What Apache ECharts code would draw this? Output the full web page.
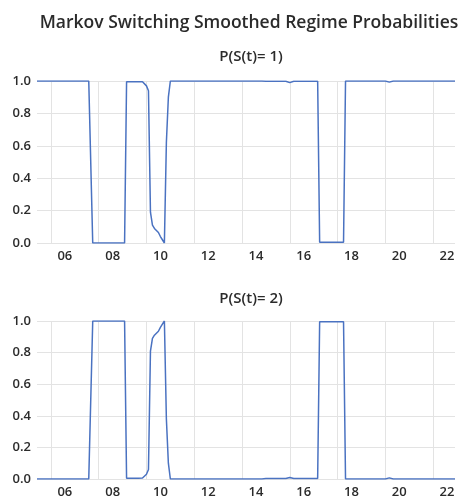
<!DOCTYPE html>
<html>
<head>
<meta charset="utf-8">
<script src="https://cdn.jsdelivr.net/npm/echarts@6/dist/echarts.min.js"></script>
<style>
  html, body {
    margin: 0;
    padding: 0;
    background: #ffffff;
  }
  #chart {
    width: 464px;
    height: 499px;
  }
</style>
</head>
<body>
<div id="chart"></div>
<script>
// monthly sample 2005M6 - 2022M12
const startYear = 2005
const startMonth = 6
const endYear = 2022
const endMonth = 12

const yTicks = ['0.0', '0.2', '0.4', '0.6', '0.8', '1.0']

// smoothed probability of regime 1, one row per year
const regime1 = [
  1, 1, 1, 1, 1, 1, 1, // 2005
  1, 1, 1, 1, 1, 1, 1, 1, 1, 1, 1, 1, // 2006
  1, 1, 1, 1, 1, 1, 1, 1, 1, 0, 0, 0, // 2007
  0, 0, 0, 0, 0, 0, 0, 0, 0, 0, 0, 0, // 2008
  0, 0, 0.996, 0.996, 0.996, 0.996, 0.996, 0.996, 0.996, 0.996, 0.995, 0.985, // 2009
  0.97, 0.94, 0.19, 0.11, 0.09, 0.09, 0.065, 0.04, 0.02, 0, 0.62, 0.9, // 2010
  1, 1, 1, 1, 1, 1, 1, 1, 1, 1, 1, 1, // 2011
  1, 1, 1, 1, 1, 1, 1, 1, 1, 1, 1, 1, // 2012
  1, 1, 1, 1, 1, 1, 1, 1, 1, 1, 1, 1, // 2013
  1, 1, 1, 1, 1, 1, 1, 1, 1, 1, 1, 1, // 2014
  0.998, 0.998, 0.998, 0.998, 0.998, 0.998, 0.998, 0.998, 0.998, 0.998, 0.998, 0.998, // 2015
  0.99, 0.994, 0.998, 0.998, 0.998, 0.998, 0.998, 0.998, 0.998, 0.998, 0.998, 0.998, // 2016
  0.998, 0.998, 0.998, 0.005, 0.005, 0.005, 0.005, 0.005, 0.005, 0.005, 0.005, 0.005, // 2017
  0.005, 0.005, 0.005, 0.005, 1, 1, 1, 1, 1, 1, 1, 1, // 2018
  1, 1, 1, 1, 1, 1, 1, 1, 1, 1, 1, 1, // 2019
  1, 1, 0.993, 0.997, 1, 1, 1, 1, 1, 1, 1, 1, // 2020
  1, 1, 1, 1, 1, 1, 1, 1, 1, 1, 1, 1, // 2021
  1, 1, 1, 1, 1, 1, 1, 1, 1, 1, 1, 1 // 2022
]

// smoothed probability of regime 2
const regime2 = [
  0, 0, 0, 0, 0, 0, 0, // 2005
  0, 0, 0, 0, 0, 0, 0, 0, 0, 0, 0, 0, // 2006
  0, 0, 0, 0, 0, 0, 0, 0, 0, 1, 1, 1, // 2007
  1, 1, 1, 1, 1, 1, 1, 1, 1, 1, 1, 1, // 2008
  1, 1, 0.005, 0.005, 0.005, 0.005, 0.005, 0.005, 0.005, 0.005, 0.006, 0.015, // 2009
  0.03, 0.06, 0.81, 0.89, 0.91, 0.91, 0.935, 0.96, 0.98, 1, 0.38, 0.1, // 2010
  0, 0, 0, 0, 0, 0, 0, 0, 0, 0, 0, 0, // 2011
  0, 0, 0, 0, 0, 0, 0, 0, 0, 0, 0, 0, // 2012
  0, 0, 0, 0, 0, 0, 0, 0, 0, 0, 0, 0, // 2013
  0, 0, 0, 0, 0, 0, 0, 0, 0, 0, 0, 0, // 2014
  0.003, 0.003, 0.003, 0.003, 0.003, 0.003, 0.003, 0.003, 0.003, 0.003, 0.003, 0.003, // 2015
  0.01, 0.006, 0.003, 0.003, 0.003, 0.003, 0.003, 0.003, 0.003, 0.003, 0.003, 0.003, // 2016
  0.003, 0.003, 0.003, 0.995, 0.995, 0.995, 0.995, 0.995, 0.995, 0.995, 0.995, 0.995, // 2017
  0.995, 0.995, 0.995, 0.995, 0, 0, 0, 0, 0, 0, 0, 0, // 2018
  0, 0, 0, 0, 0, 0, 0, 0, 0, 0, 0, 0, // 2019
  0, 0, 0.007, 0.003, 0, 0, 0, 0, 0, 0, 0, 0, // 2020
  0, 0, 0, 0, 0, 0, 0, 0, 0, 0, 0, 0, // 2021
  0, 0, 0, 0, 0, 0, 0, 0, 0, 0, 0, 0 // 2022
]

const months = []
for (let y = startYear; y <= endYear; y++) {
  const m0 = y === startYear ? startMonth : 1
  const m1 = y === endYear ? endMonth : 12
  for (let m = m0; m <= m1; m++) {
    months.push(y + '-' + (m < 10 ? '0' + m : m))
  }
}

const lineColor = '#4a72c1'
const gridColor = '#e3e3e3'
const textColor = '#2b2b2b'
const font = 'Open Sans'

// gridlines at January of even years, labels centred over the year
const isGridMonth = (i, v) => {
  const [y, m] = v.split('-')
  return m === '01' && +y % 2 === 0
}
const isLabelMonth = (i, v) => {
  const [y, m] = v.split('-')
  return m === '08' && +y % 2 === 0
}

const xAxisFor = (gridIndex) => ({
  type: 'category',
  gridIndex,
  data: months,
  boundaryGap: false,
  axisLine: { show: false },
  axisTick: { show: false },
  axisLabel: {
    interval: isLabelMonth,
    color: textColor,
    fontSize: 13,
    fontWeight: 600,
    fontFamily: font,
    margin: 7,
    formatter: (v) => v.slice(2, 4)
  },
  splitLine: {
    show: true,
    interval: isGridMonth,
    lineStyle: { color: gridColor, width: 1 }
  }
})

const yAxisFor = (gridIndex) => ({
  type: 'value',
  gridIndex,
  min: 0,
  max: 1,
  interval: 0.2,
  axisLine: { show: false },
  axisTick: { show: false },
  axisLabel: {
    color: textColor,
    fontSize: 13,
    fontWeight: 600,
    fontFamily: font,
    margin: 6,
    formatter: (v) => yTicks[Math.round(v * 5)]
  },
  splitLine: {
    lineStyle: { color: gridColor, width: 1 }
  }
})

const seriesFor = (name, idx, data) => ({
  name,
  type: 'line',
  xAxisIndex: idx,
  yAxisIndex: idx,
  data,
  showSymbol: false,
  animation: false,
  lineStyle: { color: lineColor, width: 1.5 },
  itemStyle: { color: lineColor }
})

const titleFor = (text, left, top, size) => ({
  text,
  left,
  textAlign: 'center',
  top,
  textStyle: { fontSize: size, fontWeight: 600, color: textColor, fontFamily: font }
})

const chart = echarts.init(document.getElementById('chart'))
chart.setOption({
  backgroundColor: '#ffffff',
  title: [
    titleFor('Markov Switching Smoothed Regime Probabilities', 244, 9, 17.5),
    titleFor('P(S(t)= 1)', 246, 44, 15),
    titleFor('P(S(t)= 2)', 246, 286, 15)
  ],
  grid: [
    { left: 37, right: 9, top: 81, height: 162 },
    { left: 37, right: 9, top: 321, height: 163 }
  ],
  xAxis: [xAxisFor(0), xAxisFor(1)],
  yAxis: [yAxisFor(0), yAxisFor(1)],
  series: [
    seriesFor('P(S(t)= 1)', 0, regime1),
    seriesFor('P(S(t)= 2)', 1, regime2)
  ]
})
window.addEventListener('resize', () => {
  chart.resize()
})
</script>
</body>
</html>
